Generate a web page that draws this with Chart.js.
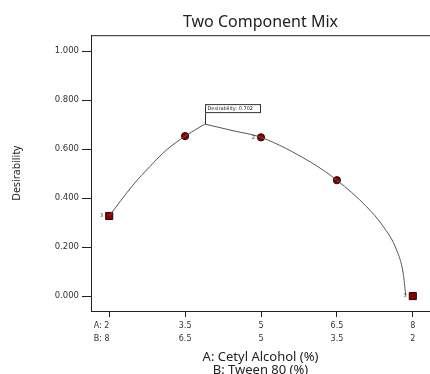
<!DOCTYPE html>
<html>
<head>
<meta charset="utf-8">
<script src="https://cdn.jsdelivr.net/npm/chart.js@4/dist/chart.umd.min.js"></script>
<style>
  html, body { margin: 0; padding: 0; background: #fff; overflow: hidden; }
  #wrap { width: 430px; height: 374px; position: relative; }
  canvas { display: block; }
</style>
</head>
<body>
<div id="wrap"><canvas id="myChart"></canvas></div>
<script>
// design runs (A: Cetyl Alcohol %, desirability)
var runA = [2, 3.5, 5, 6.5, 8];
var runD = [0.327, 0.653, 0.648, 0.473, 0.0];
var runCount = ['3', '', '2', '', '3'];

// desirability trace, split at the optimum
var leftA = [2, 2.47, 2.80, 3.13, 3.5, 3.89];
var leftD = [0.327, 0.453, 0.528, 0.596, 0.653, 0.702];
var rightA = [3.89, 4.45, 5.0, 5.97, 6.5, 7.09, 7.42, 7.68, 7.81, 7.86];
var rightD = [0.702, 0.675, 0.648, 0.548, 0.473, 0.364, 0.283, 0.188, 0.093, 0.004];

var optA = 3.89;
var optD = 0.702;

var tickA = [2, 3.5, 5, 6.5, 8];
var tickB = [8, 6.5, 5, 3.5, 2];
var tickY = [0, 0.2, 0.4, 0.6, 0.8, 1.0];

function pts(xs, ys) {
    return xs.map(function(x, i) { return {x: x, y: ys[i]}; });
}

var extras = {
    id: 'extras',
    afterDatasetsDraw: function(chart) {
        var ctx = chart.ctx;
        var xs = chart.scales.x, ys = chart.scales.y;
        var a = chart.chartArea;
        ctx.save();
        // top frame line
        ctx.strokeStyle = '#222';
        ctx.lineWidth = 1;
        ctx.beginPath();
        ctx.moveTo(a.left, a.top + 0.5);
        ctx.lineTo(a.right, a.top + 0.5);
        ctx.stroke();

        // run counts next to the design points
        ctx.fillStyle = '#333';
        ctx.font = '5px "DejaVu Sans"';
        ctx.textAlign = 'right';
        ctx.textBaseline = 'middle';
        for (var i = 0; i < runA.length; i++) {
            if (!runCount[i]) continue;
            ctx.fillText(runCount[i], xs.getPixelForValue(runA[i]) - 6, ys.getPixelForValue(runD[i]));
        }

        // optimum flag
        var px = Math.round(xs.getPixelForValue(optA)) + 0.5;
        var py = ys.getPixelForValue(optD);
        ctx.strokeStyle = '#333';
        ctx.beginPath();
        ctx.moveTo(px, py);
        ctx.lineTo(px, py - 11);
        ctx.stroke();
        ctx.fillStyle = '#fff';
        ctx.fillRect(px, py - 19.5, 55, 8);
        ctx.strokeRect(px, py - 19.5, 55, 8);
        ctx.fillStyle = '#222';
        ctx.font = '5px "DejaVu Sans"';
        ctx.textAlign = 'left';
        ctx.fillText('Desirability: ' + optD.toFixed(3), px + 2, py - 15.5);
        ctx.restore();
    }
};

var ctx = document.getElementById('myChart').getContext('2d');
var chart = new Chart(ctx, {
    type: 'scatter',
    data: {
        datasets: [{
            data: pts(leftA, leftD),
            showLine: true,
            borderColor: '#555',
            borderWidth: 1,
            pointRadius: 0,
            cubicInterpolationMode: 'monotone'
        }, {
            data: pts(rightA, rightD),
            showLine: true,
            borderColor: '#555',
            borderWidth: 1,
            pointRadius: 0,
            cubicInterpolationMode: 'monotone'
        }, {
            data: pts(runA, runD),
            showLine: false,
            pointStyle: ['rect', 'circle', 'circle', 'circle', 'rect'],
            pointRadius: [5, 3.6, 3.6, 3.6, 5],
            backgroundColor: '#8b0000',
            borderColor: '#2a0000',
            borderWidth: 1
        }]
    },
    options: {
        responsive: true,
        maintainAspectRatio: false,
        animation: false,
        layout: { padding: 0, autoPadding: false },
        plugins: {
            legend: { display: false },
            tooltip: { enabled: false },
            title: {
                display: true,
                fullSize: false,
                text: 'Two Component Mix',
                color: '#222',
                font: { family: 'Noto Sans', size: 16, weight: 'normal', lineHeight: 1.2 },
                padding: { top: 13, bottom: 3 }
            }
        },
        scales: {
            x: {
                type: 'linear',
                min: 1.64,
                max: 8.34,
                afterFit: function(s) {
                    s.height = 63;
                    s.paddingLeft = 0;
                    s.paddingRight = 0;
                },
                afterBuildTicks: function(s) { s.ticks = tickA.map(function(v) { return {value: v}; }); },
                grid: { display: true, drawOnChartArea: false, drawTicks: true, tickLength: 6, color: '#222' },
                border: { display: true, color: '#222', width: 1 },
                ticks: {
                    autoSkip: false,
                    maxRotation: 0,
                    padding: 3,
                    color: '#333',
                    font: { family: 'DejaVu Sans', size: 8, lineHeight: 1.6 },
                    callback: function(v, i) {
                        if (i === 0) return ['A: ' + tickA[i] + '      ', 'B: ' + tickB[i] + '      '];
                        return [String(tickA[i]), String(tickB[i])];
                    }
                },
                title: {
                    display: true,
                    text: ['A: Cetyl Alcohol (%)', 'B: Tween 80 (%)'],
                    color: '#222',
                    font: { family: 'Noto Sans', size: 13, lineHeight: 1.0 },
                    padding: { top: 0, bottom: -2.5 }
                }
            },
            y: {
                min: -0.061,
                max: 1.065,
                afterFit: function(s) {
                    s.width = 91;
                    s.paddingTop = 0;
                    s.paddingBottom = 0;
                },
                afterBuildTicks: function(s) { s.ticks = tickY.map(function(v) { return {value: v}; }); },
                grid: { display: true, drawOnChartArea: false, drawTicks: true, tickLength: 9, color: '#222' },
                border: { display: true, color: '#222', width: 1 },
                ticks: {
                    padding: 3,
                    color: '#333',
                    font: { family: 'DejaVu Sans', size: 8.5 },
                    callback: function(v) { return v.toFixed(3); }
                },
                title: {
                    display: true,
                    text: 'Desirability',
                    color: '#222',
                    font: { family: 'Noto Sans', size: 10.5, lineHeight: 1.2 },
                    padding: { top: 10.5, bottom: 0 }
                }
            }
        }
    },
    plugins: [extras]
});
</script>
</body>
</html>
